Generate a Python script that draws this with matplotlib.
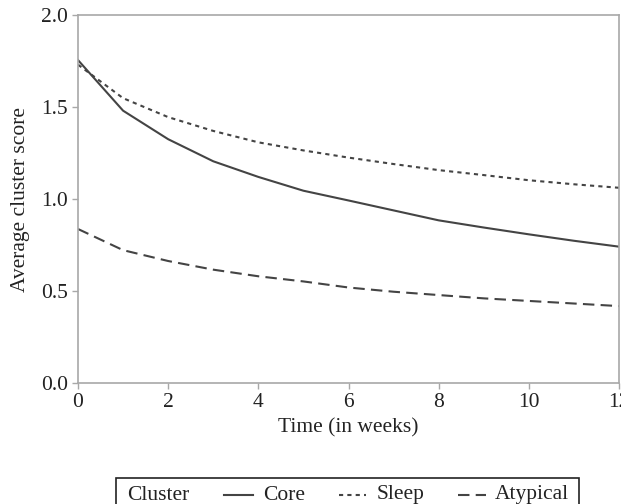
import matplotlib
matplotlib.use("Agg")
import matplotlib.pyplot as plt
from matplotlib.lines import Line2D
from matplotlib.patches import Rectangle

plt.rcParams["font.family"] = ["Liberation Serif", "DejaVu Serif"]

# Average cluster score by week
weeks = [0, 1, 2, 3, 4, 5, 6, 7, 8, 9, 10, 11, 12]
core = [1.755, 1.48, 1.325, 1.205, 1.12, 1.045, 0.992, 0.938, 0.884, 0.845, 0.808, 0.773, 0.741]
sleep = [1.73, 1.548, 1.445, 1.37, 1.308, 1.264, 1.225, 1.19, 1.157, 1.13, 1.102, 1.08, 1.061]
atypical = [0.837, 0.722, 0.663, 0.616, 0.58, 0.552, 0.519, 0.496, 0.478, 0.46, 0.446, 0.432, 0.418]

series_names = ["Core", "Sleep", "Atypical"]
x_ticks = [0, 2, 4, 6, 8, 10, 12]
y_ticks = [0.0, 0.5, 1.0, 1.5, 2.0]

W, H = 621, 504
fig = plt.figure(figsize=(W / 100, H / 100), dpi=100)
ax = fig.add_axes([78 / W, 1 - 383 / H, (619 - 78) / W, (383 - 15) / H])

line_color = "#444444"
text_color = "#222222"
fs = 15.5
styles = {
    "Core": dict(linestyle="-", linewidth=1.5),
    "Sleep": dict(linestyle=(0, (2.0, 2.0)), linewidth=1.5),
    "Atypical": dict(linestyle=(0, (5.5, 3.0)), linewidth=1.5),
}

for name, vals in zip(series_names, [core, sleep, atypical]):
    ax.plot(weeks, vals, color=line_color, **styles[name])

ax.set_xlim(0, 12)
ax.set_ylim(0, 2.0)
ax.set_xticks(x_ticks)
ax.set_yticks(y_ticks)
ax.set_yticklabels([f"{v:.1f}" for v in y_ticks])

spine_color = "#a8a8a8"
for s in ax.spines.values():
    s.set_color(spine_color)
    s.set_linewidth(1.2)
ax.tick_params(direction="out", length=4, width=1.0, color=spine_color,
               labelsize=fs, labelcolor=text_color, pad=3)

ax.set_xlabel("Time (in weeks)", fontsize=fs, color=text_color, labelpad=5)
ax.set_ylabel("Average cluster score", fontsize=fs, color=text_color, labelpad=8)

# Legend box drawn in figure pixel coordinates
def fx(px):
    return px / W

def fy(py):
    return 1 - py / H

fig.patches.append(Rectangle((fx(116), fy(520)), fx(579) - fx(116), fy(478) - fy(520),
                             transform=fig.transFigure, fill=False,
                             edgecolor=text_color, linewidth=1.2))
ty = fy(495)
fig.text(fx(127), ty, "Cluster", fontsize=fs, color=text_color, va="center", ha="left")
entries = [("Core", 224, 253, 263), ("Sleep", 339, 366, 377), ("Atypical", 458, 486, 495)]
for name, x0, x1, xt in entries:
    fig.add_artist(Line2D([fx(x0), fx(x1)], [ty, ty], transform=fig.transFigure,
                          color=line_color, **styles[name]))
    fig.text(fx(xt), ty, name, fontsize=fs, color=text_color, va="center", ha="left")

fig.savefig("out.png", dpi=100)
